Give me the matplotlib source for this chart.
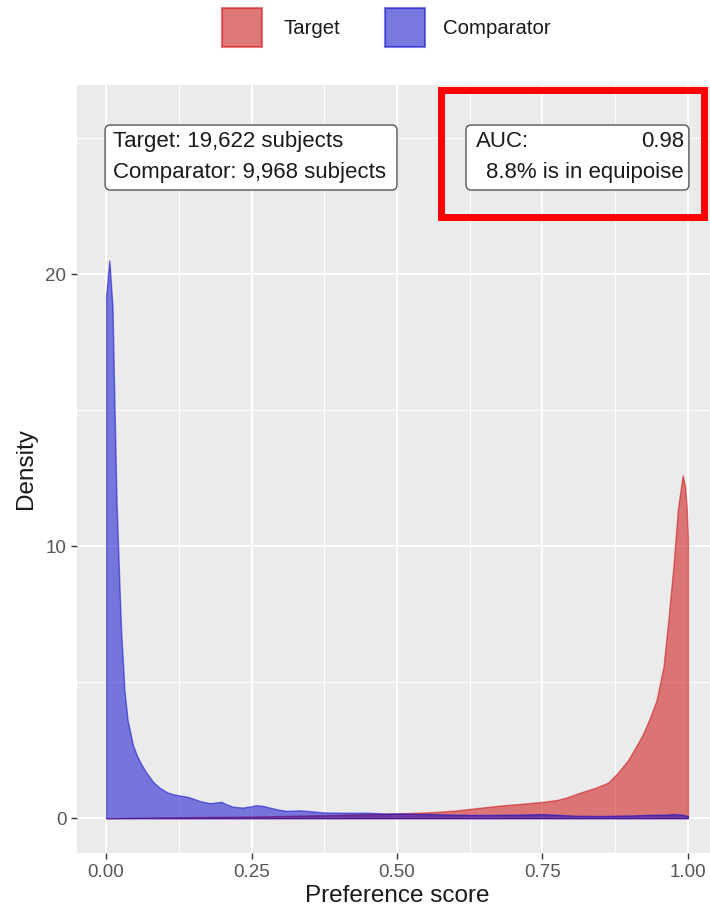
import numpy as np
import matplotlib
matplotlib.use("Agg")
import matplotlib.pyplot as plt
from matplotlib.patches import Rectangle, FancyBboxPatch

plt.rcParams['font.family'] = ['Liberation Sans', 'DejaVu Sans']

# ---- data ----
groups = ["Target", "Comparator"]
fills = [(0.8, 0.0, 0.0, 0.5), (0.0, 0.0, 0.8, 0.5)]

comp_x = [0.000, 0.0056, 0.011, 0.014, 0.018, 0.0225, 0.026, 0.0295, 0.0315, 0.037,
          0.046, 0.053, 0.060, 0.070, 0.081, 0.092, 0.105, 0.115, 0.130, 0.141,
          0.152, 0.161, 0.178, 0.190, 0.198, 0.208, 0.218, 0.235, 0.250, 0.258,
          0.270, 0.281, 0.295, 0.310, 0.333, 0.355, 0.375, 0.410, 0.450, 0.480,
          0.500, 0.530, 0.560, 0.600, 0.625, 0.660, 0.700, 0.750, 0.780, 0.810,
          0.850, 0.875, 0.900, 0.930, 0.960, 0.975, 0.990, 1.000]
comp_y = [19.2, 20.5, 18.8, 15.6, 11.6, 8.8, 6.8, 5.5, 4.7, 3.6,
          2.7, 2.3, 2.0, 1.65, 1.33, 1.12, 0.95, 0.88, 0.82, 0.78,
          0.70, 0.63, 0.55, 0.58, 0.60, 0.50, 0.42, 0.39, 0.44, 0.48,
          0.45, 0.39, 0.32, 0.27, 0.29, 0.25, 0.21, 0.20, 0.20, 0.17,
          0.18, 0.16, 0.15, 0.13, 0.12, 0.12, 0.13, 0.15, 0.12, 0.09,
          0.08, 0.09, 0.10, 0.12, 0.13, 0.15, 0.13, 0.08]

targ_x = [0.000, 0.020, 0.050, 0.100, 0.150, 0.200, 0.250, 0.300, 0.350, 0.400,
          0.450, 0.500, 0.560, 0.600, 0.625, 0.650, 0.676, 0.720, 0.750, 0.775,
          0.790, 0.815, 0.843, 0.863, 0.880, 0.897, 0.910, 0.923, 0.935, 0.946,
          0.958, 0.966, 0.975, 0.983, 0.991, 0.995, 0.998, 1.000]
targ_y = [0.0, 0.01, 0.02, 0.03, 0.04, 0.05, 0.06, 0.08, 0.10, 0.12,
          0.15, 0.17, 0.22, 0.28, 0.34, 0.40, 0.46, 0.54, 0.60, 0.67,
          0.75, 0.94, 1.13, 1.31, 1.68, 2.13, 2.6, 3.1, 3.7, 4.33,
          5.56, 7.2, 9.24, 11.4, 12.6, 12.2, 11.4, 10.3]

x_ticks = [0.0, 0.25, 0.5, 0.75, 1.0]
x_tick_labels = ["0.00", "0.25", "0.50", "0.75", "1.00"]
y_ticks = [0, 10, 20]

count_lines = ["Target: 19,622 subjects", "Comparator: 9,968 subjects"]
auc_text = "0.98"
equipoise_text = "8.8% is in equipoise"

# ---- figure ----
fig = plt.figure(figsize=(7.1, 9.1), dpi=100)
ax = fig.add_axes([77 / 710, 57 / 910, 640 / 710, 768 / 910])
ax.set_facecolor('#EBEBEB')
for s in ax.spines.values():
    s.set_visible(False)

ax.set_xlim(-0.05, 1.05)
ax.set_ylim(-1.28, 26.95)

# grid like ggplot
ax.set_xticks(x_ticks)
ax.set_xticks([0.125, 0.375, 0.625, 0.875], minor=True)
ax.set_yticks(y_ticks)
ax.set_yticks([5, 15, 25], minor=True)
ax.grid(which='major', color='white', linewidth=1.4)
ax.grid(which='minor', color='white', linewidth=0.7)
ax.set_axisbelow(True)

ax.fill_between(targ_x, targ_y, 0, facecolor=fills[0], edgecolor=fills[0], linewidth=1.0)
ax.fill_between(comp_x, comp_y, 0, facecolor=fills[1], edgecolor=fills[1], linewidth=1.0)

ax.set_xticklabels(x_tick_labels)
ax.tick_params(which='major', length=4.2, width=1.0, color='#333333',
               labelsize=13.5, labelcolor='#555555', pad=3.5)
ax.tick_params(which='minor', length=0)
ax.set_xlabel("Preference score", fontsize=17.5, color='#1A1A1A', labelpad=3)
ax.set_ylabel("Density", fontsize=17.5, color='#1A1A1A', labelpad=6)

# label boxes (geom_label style)
asp = 582 / 27.2
box_y0, box_y1 = 23.09, 25.48
for bx0, bx1 in [(-0.0017, 0.5), (0.6186, 1.0017)]:
    ax.add_patch(FancyBboxPatch((bx0, box_y0), bx1 - bx0, box_y1 - box_y0,
                                boxstyle="round,pad=0,rounding_size=0.009",
                                mutation_aspect=asp, facecolor='white',
                                edgecolor='#555555', linewidth=1.0, zorder=5))
line1_y, line2_y = 24.89, 23.75
fs_box = 16
ax.text(0.012, line1_y, count_lines[0], fontsize=fs_box, color='#1A1A1A', va='center', ha='left', zorder=6)
ax.text(0.012, line2_y, count_lines[1], fontsize=fs_box, color='#1A1A1A', va='center', ha='left', zorder=6)
ax.text(0.636, line1_y, "AUC:", fontsize=fs_box, color='#1A1A1A', va='center', ha='left', zorder=6)
ax.text(0.993, line1_y, auc_text, fontsize=fs_box, color='#1A1A1A', va='center', ha='right', zorder=6)
ax.text(0.993, line2_y, equipoise_text, fontsize=fs_box, color='#1A1A1A', va='center', ha='right', zorder=6)

# legend on top
key_x = [222, 385]
text_x = [283, 443]
for i, g in enumerate(groups):
    fig.add_artist(Rectangle((key_x[i] / 710, (910 - 47) / 910), 40 / 710, 39 / 910,
                             transform=fig.transFigure, facecolor='#F2F2F2', edgecolor='none'))
    fig.add_artist(Rectangle((key_x[i] / 710, (910 - 47) / 910), 40 / 710, 39 / 910,
                             transform=fig.transFigure, facecolor=fills[i],
                             edgecolor=fills[i], linewidth=1.5))
    fig.text(text_x[i] / 710, (910 - 28) / 910, g, fontsize=14.7, color='#1A1A1A',
             ha='left', va='center')

# red highlight frame
fig.add_artist(Rectangle((441.5 / 710, (910 - 216.5) / 910), 263 / 710, 127 / 910,
                         transform=fig.transFigure, fill=False, edgecolor='#FF0000',
                         linewidth=5, zorder=10))

fig.savefig("out.png", dpi=100)
